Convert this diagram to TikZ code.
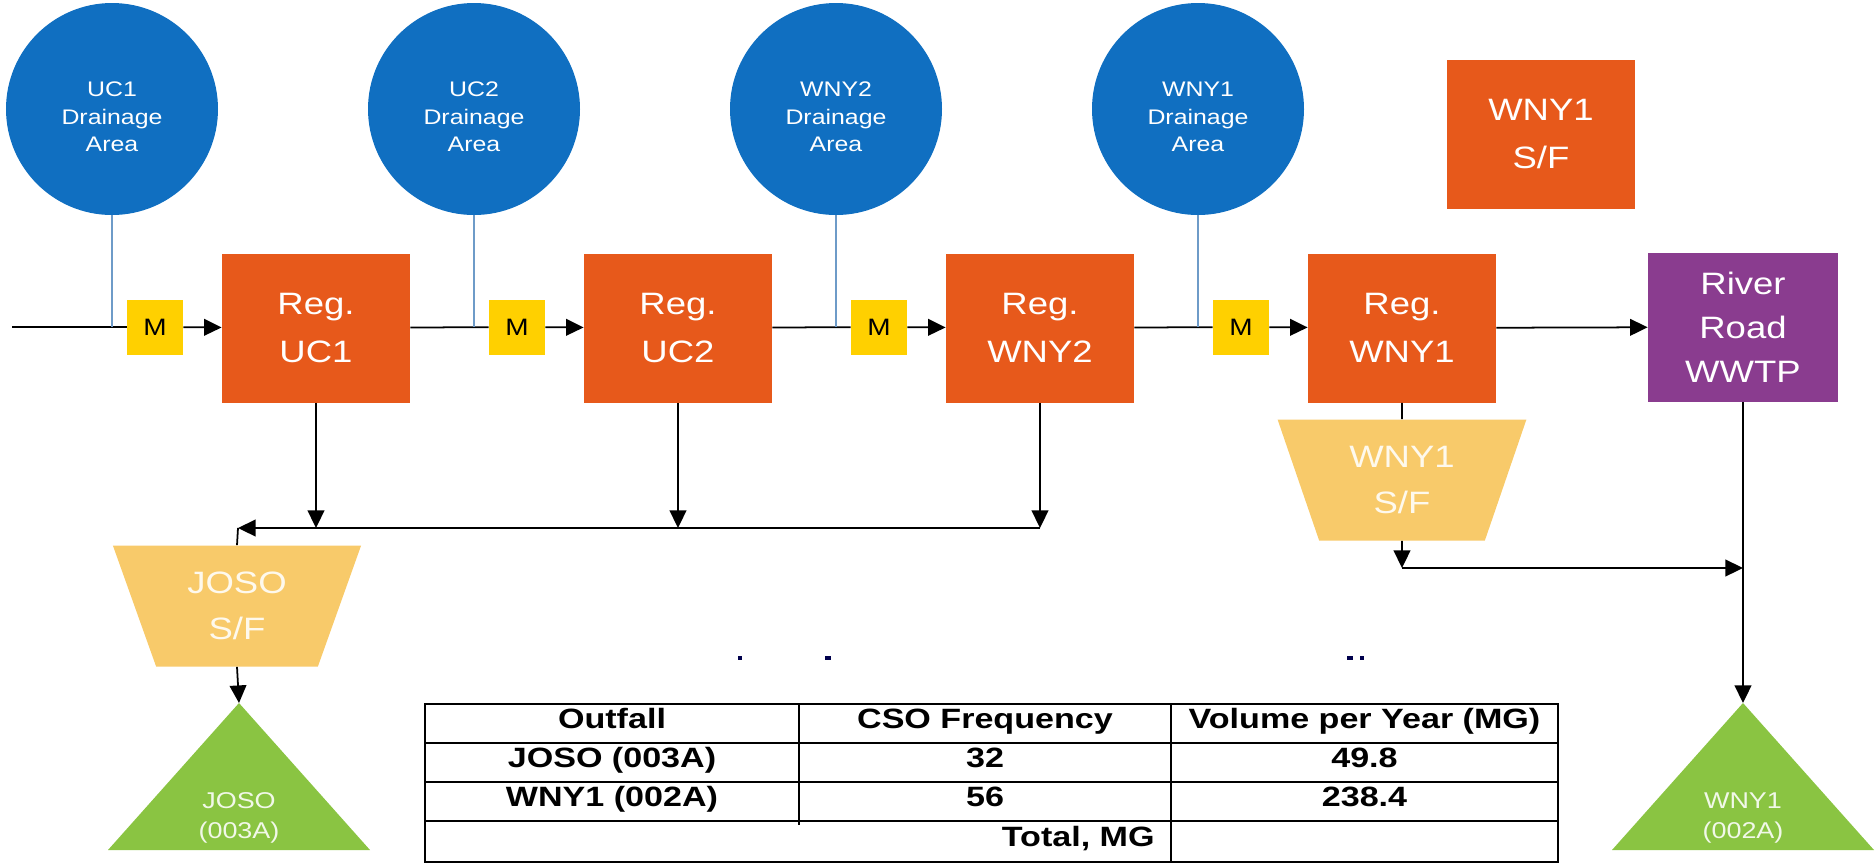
\documentclass[tikz,border=0pt]{standalone}
\usepackage{fontspec}
\setmainfont{Liberation Sans}[FakeStretch=1.18]
\usepackage{xcolor}
\usetikzlibrary{arrows.meta, positioning, shapes.geometric, calc}

\definecolor{areablue}{RGB}{16,111,193}
\definecolor{regorange}{RGB}{231,89,27}
\definecolor{plantpurple}{RGB}{138,60,143}
\definecolor{meteryellow}{RGB}{255,208,0}
\definecolor{sfyellow}{RGB}{248,202,106}
\definecolor{outgreen}{RGB}{138,196,66}
\definecolor{feedblue}{RGB}{110,155,200}

\begin{document}
\begin{tikzpicture}[x=0.2mm, y=-0.2mm,
  area/.style={circle, fill=areablue, minimum size=42.4mm, inner sep=0pt},
  areatext/.style={align=center, text=white, yshift=-1.6mm,
    font=\fontsize{12}{15.6}\selectfont},
  reg/.style={rectangle, fill=regorange, minimum width=37.6mm, minimum height=29.8mm,
    inner sep=0pt, align=center, text=white, font=\fontsize{17.6}{27}\selectfont},
  meter/.style={rectangle, fill=meteryellow, minimum width=11.2mm, minimum height=11mm,
    inner sep=0pt, font=\fontsize{13.5}{15}\selectfont},
  sf/.style={trapezium, trapezium left angle=111.2, trapezium right angle=111.2,
    trapezium stretches=true, fill=sfyellow, minimum width=49.8mm, minimum height=24.2mm,
    inner sep=0pt, align=center, text=sfyellow!12!white, font=\fontsize{17.6}{26.5}\selectfont},
  outfall/.style={align=center, inner sep=0pt, text=outgreen!12!white,
    font=\fontsize{13}{17}\selectfont},
  flow/.style={-{Triangle[length=10pt, width=9.5pt]}, line width=1pt},
  pipe/.style={line width=1pt},
  feed/.style={feedblue, line width=0.8pt},
  cell/.style={font=\fontsize{15.9}{18}\selectfont\bfseries\addfontfeatures{FakeStretch=1.22},
    text height=0.72em, text depth=0.2em, inner sep=0pt},
  grid/.style={line width=1.2pt},
]
  \useasboundingbox (0,0) rectangle (1875,865);
  % units: 1 = one pixel of the 1875x865 sheet, y runs down
  % drainage areas, centres at y=109, r=106
  \node[area, label={[areatext]center:UC1\\Drainage\\Area}]   (dauc1)  at (112,109)  {};
  \node[area, label={[areatext]center:UC2\\Drainage\\Area}]   (dauc2)  at (474,109)  {};
  \node[area, label={[areatext]center:WNY2\\Drainage\\Area}]  (dawny2) at (836,109)  {};
  \node[area, label={[areatext]center:WNY1\\Drainage\\Area}]  (dawny1) at (1198,109) {};
  % regulators on the interceptor, y=328
  \node[reg] (reguc1)  at (316,328)  {Reg.\\UC1};
  \node[reg] (reguc2)  at (678,328)  {Reg.\\UC2};
  \node[reg] (regwny2) at (1040,328) {Reg.\\WNY2};
  \node[reg] (regwny1) at (1402,328) {Reg.\\WNY1};
  \node[reg] (sfwny1box) at (1541,134) {WNY1\\S/F};
  \node[reg, fill=plantpurple, minimum width=38mm, font=\fontsize{17.6}{25}\selectfont]
    (wwtp) at (1743,327) {River\\Road\\WWTP};
  % meters
  \node[meter] (m1) at (155,327)  {M};
  \node[meter] (m2) at (517,327)  {M};
  \node[meter] (m3) at (879,327)  {M};
  \node[meter] (m4) at (1241,327) {M};
  % settling/floatables facilities
  \node[sf] (jososf) at (237,606) {JOSO\\S/F};
  \node[sf] (wnysf)  at (1402,480) {WNY1\\S/F};

  % outfalls: apex y=703, base y=850
  \coordinate (joapex) at (239,703);
  \coordinate (wyapex) at (1743,703);
  \fill[outgreen] (joapex) -- ++(131,147) -- ++(-262,0) -- cycle;
  \fill[outgreen] (wyapex) -- ++(131,147) -- ++(-262,0) -- cycle;
  \node[outfall] (joso) at (239,818) {JOSO\\(003A)};
  \node[outfall] (wny)  at (1743,818) {WNY1\\(002A)};

  % interceptor
  \coordinate (inlet) at (12,327);
  \draw[pipe] (inlet) -- (m1);
  \draw[flow] (m1) -- (reguc1);
  \draw[pipe] (reguc1) -- (m2);
  \draw[flow] (m2) -- (reguc2);
  \draw[pipe] (reguc2) -- (m3);
  \draw[flow] (m3) -- (regwny2);
  \draw[pipe] (regwny2) -- (m4);
  \draw[flow] (m4) -- (regwny1);
  \draw[flow] (regwny1) -- (wwtp);
  % drainage area feeds
  \draw[feed] (dauc1.south) -- (dauc1.south |- m1);
  \draw[feed] (dauc2.south) -- (dauc2.south |- m2);
  \draw[feed] (dawny2.south) -- (dawny2.south |- m3);
  \draw[feed] (dawny1.south) -- (dawny1.south |- m4);

  % overflows to JOSO, collector at y=528
  \coordinate (jocorner) at (238,528);
  \draw[flow] (reguc1.south) -- (reguc1.south |- jocorner);
  \draw[flow] (reguc2.south) -- (reguc2.south |- jocorner);
  \draw[flow] (regwny2.south) -- (regwny2.south |- jocorner);
  \draw[flow] (regwny2.south |- jocorner) -- (jocorner);
  \draw[pipe] (jocorner) -- (jososf.north);
  \draw[flow] (jososf.south) -- (joapex);

  % overflow at WNY1, y=568
  \coordinate (wycorner) at (1402,568);
  \draw[pipe] (regwny1.south) -- (wnysf.north);
  \draw[flow] (wnysf.south) -- (wycorner);
  \draw[flow] (wycorner) -- (wycorner -| wwtp.south);
  \draw[flow] (wwtp.south) -- (wyapex);

  % leftover marks
  \fill[black!70!blue] (738,656) rectangle ++(4,4);
  \fill[black!70!blue] (825,656) rectangle ++(6,4);
  \fill[black!70!blue] (1347,656) rectangle ++(6,4);
  \fill[black!70!blue] (1360,656) rectangle ++(4,4);

  % summary table, cols at x=425/799/1171/1558
  \draw[grid] (425,704) rectangle (1558,862);
  \foreach \ty in {743,782,821}
    \draw[grid] (425,\ty) -- (1558,\ty);
  \draw[grid] (799,704) -- (799,825);
  \draw[grid] (1171,704) -- (1171,862);
  \node[cell] (hout)  at (612,723.5)    {Outfall};
  \node[cell] (hfreq) at (985,723.5)    {CSO Frequency};
  \node[cell] (hvol)  at (1364.5,723.5) {Volume per Year (MG)};
  \node[cell] (r1out)  at (612,762.5)    {JOSO (003A)};
  \node[cell] (r1freq) at (985,762.5)    {32};
  \node[cell] (r1vol)  at (1364.5,762.5) {49.8};
  \node[cell] (r2out)  at (612,801.5)    {WNY1 (002A)};
  \node[cell] (r2freq) at (985,801.5)    {56};
  \node[cell] (r2vol)  at (1364.5,801.5) {238.4};
  \node[cell, anchor=east] (total) at (1155,841.5) {Total, MG};
\end{tikzpicture}
\end{document}
